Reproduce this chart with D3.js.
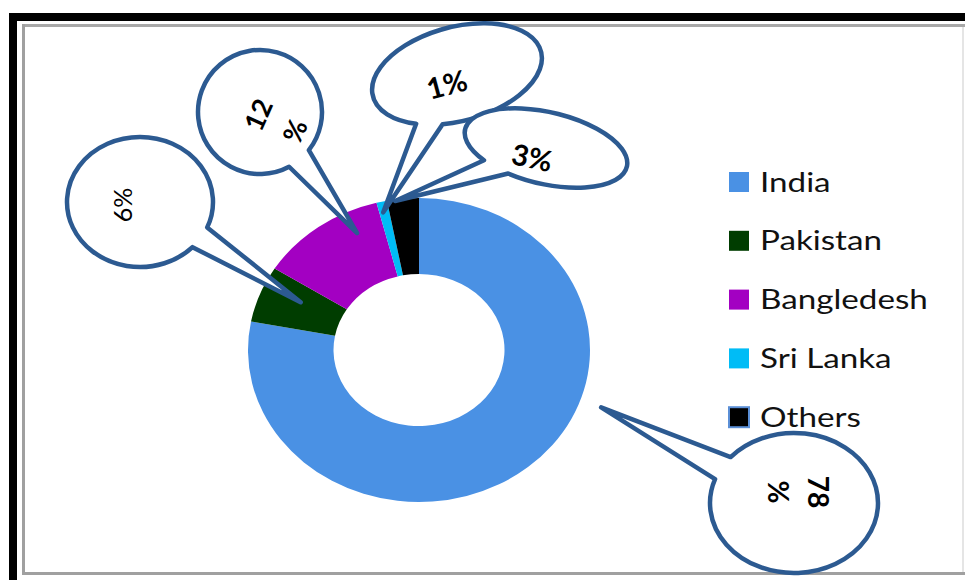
<!DOCTYPE html>
<html>
<head>
<meta charset="utf-8">
<script src="https://cdn.jsdelivr.net/npm/d3@7"></script>
<style>
  html, body { margin: 0; padding: 0; background: #fff; }
  svg { display: block; }
</style>
</head>
<body>
<svg id="chart" width="965" height="580"></svg>
<script>
// Share of the total by country (percent)
const categories = ["India", "Pakistan", "Bangledesh", "Sri Lanka", "Others"];
const shares = [78, 6, 12, 1, 3];
const sliceColors = ["#4a91e4", "#003d00", "#a300c2", "#00bcf6", "#000000"];

// Callout balloons: ellipse geometry, where the tail meets the ellipse,
// where the tail points inside its slice, and how the label is set.
const callouts = [
  { cat: "India",      cx: 794, cy: 503, rx: 84, ry: 70, rot: 0,   base: [200, 221], tipFrac: 0.39, tipR: 1.13,
    tx: 798, ty: 492, textRot: 90,  wrap: true,  size: 28, weight: 700, gap: 40 },
  { cat: "Pakistan",   cx: 140, cy: 202, rx: 73, ry: 65, rot: 0,   base: [23, 44],   tipFrac: 0.63, tipR: 0.76,
    tx: 123, ty: 205, textRot: -90, wrap: false, size: 25, weight: 400, gap: 0 },
  { cat: "Bangledesh", cx: 260, cy: 112, rx: 62, ry: 62, rot: 0,   base: [38, 62],   tipFrac: 0.75, tipR: 0.85,
    tx: 277, ty: 123, textRot: -66, wrap: true,  size: 27, weight: 700, gap: 40 },
  { cat: "Sri Lanka",  cx: 457, cy: 74,  rx: 87, ry: 47, rot: -15, base: [108, 127], tipFrac: 0.39, tipR: 0.93,
    tx: 447, ty: 85,  textRot: -15, wrap: false, size: 29, weight: 700, gap: 0 },
  { cat: "Others",     cx: 546, cy: 148, rx: 83, ry: 36, rot: 13,  base: [112, 134], tipFrac: 0.25, tipR: 0.99,
    tx: 532, ty: 158, textRot: 12,  wrap: false, size: 29, weight: 700, gap: 0 }
];

const svg = d3.select("#chart");
const W = 965, H = 580;
const calloutBlue = "#2c5a91";
const font = "Lato, 'Open Sans', 'DejaVu Sans', sans-serif";

// ---- frame ----
const frame = svg.append("g");
frame.append("rect").attr("x", 9).attr("y", 13).attr("width", W - 9).attr("height", 8).attr("fill", "#000");
frame.append("rect").attr("x", 9).attr("y", 13).attr("width", 8).attr("height", H - 13).attr("fill", "#000");
frame.append("line").attr("x1", 22).attr("x2", 965).attr("y1", 25.5).attr("y2", 25.5)
  .attr("stroke", "#a8a8a8").attr("stroke-width", 3);
frame.append("line").attr("x1", 23.5).attr("x2", 23.5).attr("y1", 24).attr("y2", 575)
  .attr("stroke", "#a0a0a0").attr("stroke-width", 3);
frame.append("line").attr("x1", 22).attr("x2", 965).attr("y1", 573.5).attr("y2", 573.5)
  .attr("stroke", "#a0a0a0").attr("stroke-width", 3);
frame.append("line").attr("x1", 963).attr("x2", 963).attr("y1", 27).attr("y2", 572)
  .attr("stroke", "#dcdcdc").attr("stroke-width", 1.5);

// ---- donut ----
const cx = 419, cy = 350, outerR = 171, innerR = 85.5, squash = 152 / 171;
const pie = d3.pie().sort(null).value(d => d.v).startAngle(0).endAngle(2 * Math.PI);
const arcs = pie(categories.map((c, i) => ({ c, v: shares[i] })));
const color = d3.scaleOrdinal().domain(categories).range(sliceColors);
const arc = d3.arc().innerRadius(innerR).outerRadius(outerR);

const donut = svg.append("g").attr("transform", `translate(${cx},${cy}) scale(1,${squash})`);
donut.selectAll("path").data(arcs).join("path")
  .attr("d", arc)
  .attr("fill", d => color(d.data.c));

// screen position of a point given by angle (radians, clockwise from 12 o'clock) and radius fraction
function polar(angle, rFrac) {
  return [cx + outerR * rFrac * Math.sin(angle), cy - outerR * squash * rFrac * Math.cos(angle)];
}

// point on a rotated ellipse at parameter t (degrees)
function ellPt(b, tDeg) {
  const t = tDeg * Math.PI / 180, p = b.rot * Math.PI / 180;
  const x = b.rx * Math.cos(t), y = b.ry * Math.sin(t);
  return [b.cx + x * Math.cos(p) - y * Math.sin(p), b.cy + x * Math.sin(p) + y * Math.cos(p)];
}

// ---- callouts ----
const balloons = svg.append("g");
callouts.forEach(b => {
  const i = categories.indexOf(b.cat);
  const a = arcs[i];
  const tip = polar(a.startAngle + b.tipFrac * (a.endAngle - a.startAngle), b.tipR);
  const p1 = ellPt(b, b.base[0]), p2 = ellPt(b, b.base[1]);
  const path = `M${p2[0]},${p2[1]} A${b.rx},${b.ry} ${b.rot} 1 1 ${p1[0]},${p1[1]} L${tip[0]},${tip[1]} Z`;
  balloons.append("path")
    .attr("d", path)
    .attr("fill", "#fff")
    .attr("stroke", calloutBlue)
    .attr("stroke-width", 4.5)
    .attr("stroke-linejoin", "round");

  const value = shares[i];
  const lines = b.wrap ? [String(value), "%"] : [value + "%"];
  const t = balloons.append("text")
    .attr("transform", `translate(${b.tx},${b.ty}) rotate(${b.textRot})`)
    .attr("text-anchor", "middle")
    .attr("font-family", font)
    .attr("font-size", b.size)
    .attr("font-weight", b.weight)
    .attr("fill", "#000");
  const off = -(lines.length - 1) * b.gap / 2;
  lines.forEach((ln, k) => {
    t.append("tspan").attr("x", 0).attr("y", off + k * b.gap).attr("dy", "0.35em").text(ln);
  });
});

// ---- legend ----
const legend = svg.append("g").attr("transform", "translate(729,182)");
const rowH = 58.8;
const items = legend.selectAll("g").data(categories).join("g")
  .attr("transform", (d, i) => `translate(0,${i * rowH})`);
items.append("rect")
  .attr("x", 0).attr("y", -10).attr("width", 20).attr("height", 20)
  .attr("fill", d => color(d))
  .attr("stroke", d => d === "Others" ? "#5b8fd6" : "none")
  .attr("stroke-width", 2);
items.append("text")
  .attr("transform", "translate(31,9.5) scale(1.23,1)")
  .attr("font-family", font)
  .attr("font-size", 27)
  .attr("fill", "#111")
  .text(d => d);
</script>
</body>
</html>
